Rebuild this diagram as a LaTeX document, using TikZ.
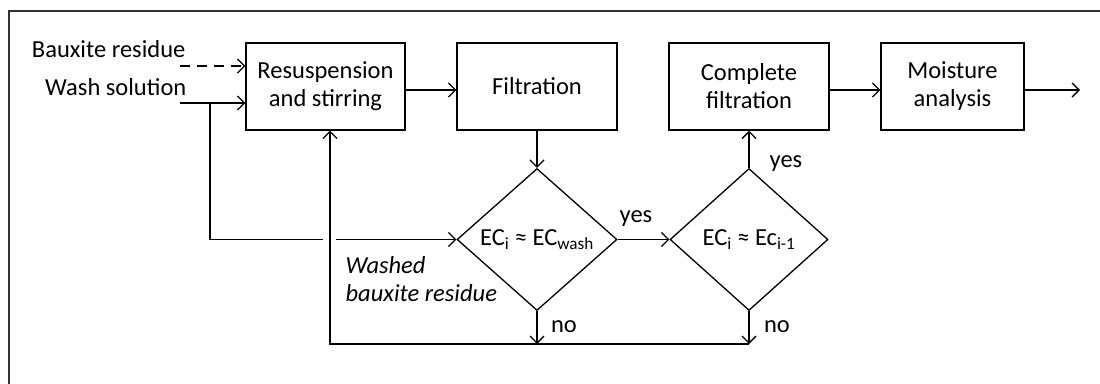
\documentclass[tikz,border=0pt]{standalone}
\usepackage{fontspec}
\setmainfont{Carlito}
\usetikzlibrary{arrows.meta,shapes.geometric}
\begin{document}
\begin{tikzpicture}[x=1pt,y=-1pt,
  every node/.style={font=\fontsize{24.5}{28}\selectfont, inner sep=0pt},
  >={Straight Barb[length=7pt,width=14pt]},
  line width=1.3pt,
  procbox/.style={draw, rectangle, minimum height=87pt, align=center},
  decbox/.style={draw, diamond, minimum height=142pt},
  lbl/.style={anchor=base},
  frameline/.style={line width=2pt, draw=black!80}]
\useasboundingbox (0,0) rectangle (1100,383);
\draw[frameline] (9,400) -- (9,11) -- (1110,11);

% process boxes
\node[procbox, minimum width=159pt] (b1) at (325.5,86.5) {Resuspension\\and stirring};
\node[procbox, minimum width=160pt] (b2) at (537,86.5) {Filtration};
\node[procbox, minimum width=160pt] (b3) at (749,86.5) {Complete\\filtration};
\node[procbox, minimum width=143pt] (b4) at (952.5,86.5) {Moisture\\analysis};

% decisions
\node[decbox, minimum width=160pt] (d1) at (537,239.5) {\raisebox{-3pt}{EC\textsubscript{i} ≈ EC\textsubscript{wash}}};
\node[decbox, minimum width=158pt] (d2) at (749,239.5) {\raisebox{-3pt}{EC\textsubscript{i} ≈ Ec\textsubscript{i-1}}};

% inputs
\node[anchor=base east] (tb) at (186,57) {Bauxite residue};
\node[anchor=base east] (tw) at (187,95) {Wash solution};
\coordinate (bx) at (180,66);
\coordinate (ws) at (180,103);
\coordinate (wj) at (210,103);
\coordinate (wk) at (210,239.5);
\coordinate (hop1) at (323,239.5);
\coordinate (hop2) at (336,239.5);
\coordinate (out) at (1080,90);
\coordinate (bl0) at (330,344);
\coordinate (bl2) at (749,344);

\draw[->, dash pattern=on 10pt off 7pt] (bx) -- (bx -| b1.west);
\draw[->] (ws) -- (ws -| b1.west);
\draw (wj) -- (wk) -- (hop1);
\draw[->] (hop2) -- (d1.west);

% main flow
\draw[->] ([yshift=-3.5pt]b1.east) -- ([yshift=-3.5pt]b2.west);
\draw[->] (b2.south) -- (d1.north);
\draw[->] (d1.east) -- (d2.west);
\draw[->] (d2.north) -- (b3.south);
\draw[->] ([yshift=-3.5pt]b3.east) -- ([yshift=-3.5pt]b4.west);
\draw[->] ([yshift=-3.5pt]b4.east) -- (out);

% recycle
\draw[->] (d1.south) -- (d1.south |- bl0);
\draw[->] (d2.south) -- (bl2);
\draw[->] (bl2) -- (bl0) -- (bl0 |- b1.south);

% labels
\node[lbl] (y1) at (636,222) {yes};
\node[lbl] (y2) at (786,167) {yes};
\node[lbl] (n1) at (564,332) {no};
\node[lbl] (n2) at (777,332) {no};
\node[anchor=base west, align=left, font=\fontsize{24.5}{28}\selectfont\itshape] (wbr) at (345,301) {Washed\\bauxite residue};
\end{tikzpicture}
\end{document}
